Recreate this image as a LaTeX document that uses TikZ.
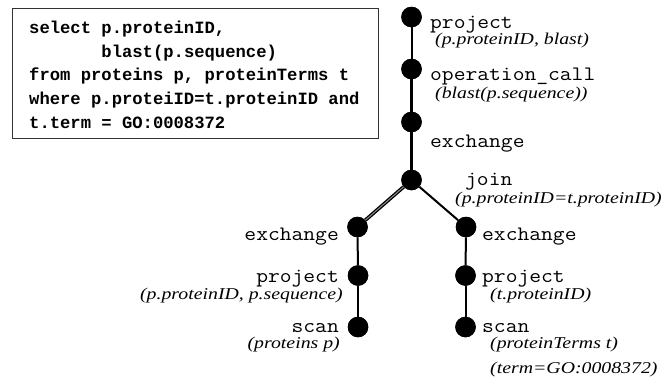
\documentclass[tikz,border=0pt]{standalone}
\usepackage{fontspec}
\newfontfamily\cour{Liberation Mono}
\newfontfamily\lmtt[FakeStretch=1.117]{Latin Modern Mono}
\newfontfamily\tim[FakeStretch=1.2]{Liberation Serif}
\begin{document}
\begin{tikzpicture}[x=1pt,y=-1pt,
  dot/.style={circle,fill=black,inner sep=0pt,minimum size=20.5pt},
  op/.style={anchor=base west,inner sep=0pt,font=\lmtt\fontsize{20.5}{20.5}\selectfont},
  opr/.style={anchor=base east,inner sep=0pt,font=\lmtt\fontsize{20.5}{20.5}\selectfont},
  arg/.style={anchor=base west,inner sep=0pt,font=\tim\itshape\fontsize{16.5}{16.5}\selectfont},
  argr/.style={anchor=base east,inner sep=0pt,font=\tim\itshape\fontsize{16.5}{16.5}\selectfont},
  code/.style={anchor=base west,inner sep=0pt,font=\cour\bfseries\fontsize{17.2}{17.2}\selectfont},
  edge/.style={line width=2pt},
  thickedge/.style={line width=2.6pt},
  dbl/.style={line width=1.3pt,double=black!45,double distance=1pt}]
\useasboundingbox (0,0) rectangle (667,381);
% query box
\node[draw=black!80,line width=1pt,inner sep=0pt,minimum width=366pt,minimum height=130pt,anchor=north west] (qbox) at (12,7.5) {};
\node[code] (q1) at (29,33) {select p.proteinID,};
\node[code] (q2) at (29,57) {\hphantom{select }blast(p.sequence)};
\node[code] (q3) at (29,80.5) {from proteins p, proteinTerms t};
\node[code] (q4) at (29,104) {where p.proteiID=t.proteinID and};
\node[code] (q5) at (29,128) {t.term = GO:0008372};
% dots
\node[dot] (d1) at (411.5,17) {};
\node[dot] (d2) at (411.5,69) {};
\node[dot] (d3) at (411.5,122) {};
\node[dot] (dj) at (411.5,180) {};
\node[dot] (le) at (357.5,227) {};
\node[dot] (lp) at (358,275.5) {};
\node[dot] (ls) at (358,327) {};
\node[dot] (re) at (466,227) {};
\node[dot] (rp) at (465.5,275.5) {};
\node[dot] (rs) at (465.5,327) {};
% edges
\draw[edge] (d1.center) -- (d2.center);
\draw[thickedge] (d2.center) -- (d3.center);
\draw[thickedge] (d3.center) -- (dj.center);
\draw[dbl] (dj) -- (le);
\draw[edge] (dj) -- (re);
\draw[edge] (le) -- (lp);
\draw[edge] (lp) -- (ls);
\draw[edge] (re) -- (rp);
\draw[edge] (rp) -- (rs);
% redraw dots on top
\foreach \n in {d1,d2,d3,dj,le,lp,ls,re,rp,rs} \fill (\n) circle (10.25pt);
% labels
\node[op] (t1) at (430,28) {project};
\node[arg] (a1) at (435,44) {(p.proteinID, blast)};
\node[op] (t2) at (430,80) {operation\_call};
\node[arg] (a2) at (435,98) {(blast(p.sequence))};
\node[op] (t3) at (430,147) {exchange};
\node[op] (t4) at (465,185) {join};
\node[arg] (a4) at (455,203) {(p.proteinID=t.proteinID)};
\node[opr] (t5) at (339,240) {exchange};
\node[opr] (t6) at (339,282.5) {project};
\node[argr] (a6) at (343,299) {(p.proteinID, p.sequence)};
\node[opr] (t7) at (339,332) {scan};
\node[argr] (a7) at (340,348) {(proteins p)};
\node[op] (t8) at (482,240) {exchange};
\node[op] (t9) at (482,282.5) {project};
\node[arg] (a9) at (490,299) {(t.proteinID)};
\node[op] (t10) at (482,332) {scan};
\node[arg] (a10) at (490,348) {(proteinTerms t)};
\node[arg] (a11) at (490,373) {(term=GO:0008372)};
\end{tikzpicture}
\end{document}
